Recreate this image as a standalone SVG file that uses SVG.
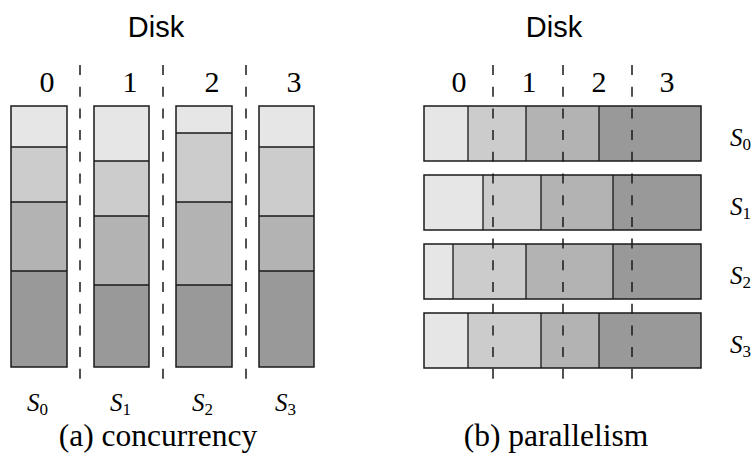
<svg xmlns="http://www.w3.org/2000/svg" width="755" height="455" viewBox="0 0 755 455">
<style>
.c1{fill:#e6e6e6}.c2{fill:#cccccc}.c3{fill:#b3b3b3}.c4{fill:#999999}
.sep{stroke:#1a1a1a;stroke-width:1.3;fill:none}
.frame{fill:none;stroke:#1a1a1a;stroke-width:1.5}
.dash{stroke:#1a1a1a;stroke-width:1.5;stroke-dasharray:10 11.7;fill:none}
.title{font-family:"Liberation Sans",Arial,"DejaVu Sans",sans-serif;font-size:29px;fill:#000;text-anchor:middle}
.num{font-family:"Liberation Serif","Times New Roman","DejaVu Serif",serif;font-size:30px;fill:#000;text-anchor:middle}
.cap{font-family:"Liberation Serif","Times New Roman","DejaVu Serif",serif;font-size:31.5px;fill:#000;text-anchor:middle}
.s{font-family:"Liberation Serif","Times New Roman","DejaVu Serif",serif;font-style:italic;font-size:25px;fill:#000}
.sub{font-style:normal;font-size:17px}
</style>
<rect width="755" height="455" fill="#fff"/>

<!-- (a) concurrency -->
<g id="a-title">
<text class="title" x="156" y="37">Disk</text>
<text class="num" x="47" y="92">0</text>
<text class="num" x="130" y="92">1</text>
<text class="num" x="212" y="92">2</text>
<text class="num" x="294" y="92">3</text>
</g>
<g id="a-col0">
<rect class="c1" x="11" y="106" width="56" height="41"/>
<rect class="c2" x="11" y="147" width="56" height="55"/>
<rect class="c3" x="11" y="202" width="56" height="69"/>
<rect class="c4" x="11" y="271" width="56" height="96"/>
<path class="sep" d="M11 147H67M11 202H67M11 271H67"/>
<rect class="frame" x="11" y="106" width="56" height="261"/>
<text class="s" x="27" y="411">S<tspan class="sub" dy="4">0</tspan></text>
</g>
<g id="a-col1">
<rect class="c1" x="94" y="106" width="55" height="55"/>
<rect class="c2" x="94" y="161" width="55" height="55"/>
<rect class="c3" x="94" y="216" width="55" height="69"/>
<rect class="c4" x="94" y="285" width="55" height="82"/>
<path class="sep" d="M94 161H149M94 216H149M94 285H149"/>
<rect class="frame" x="94" y="106" width="55" height="261"/>
<text class="s" x="110" y="411">S<tspan class="sub" dy="4">1</tspan></text>
</g>
<g id="a-col2">
<rect class="c1" x="176" y="106" width="56" height="27"/>
<rect class="c2" x="176" y="133" width="56" height="69"/>
<rect class="c3" x="176" y="202" width="56" height="83"/>
<rect class="c4" x="176" y="285" width="56" height="82"/>
<path class="sep" d="M176 133H232M176 202H232M176 285H232"/>
<rect class="frame" x="176" y="106" width="56" height="261"/>
<text class="s" x="192" y="411">S<tspan class="sub" dy="4">2</tspan></text>
</g>
<g id="a-col3">
<rect class="c1" x="259" y="106" width="55" height="41"/>
<rect class="c2" x="259" y="147" width="55" height="69"/>
<rect class="c3" x="259" y="216" width="55" height="55"/>
<rect class="c4" x="259" y="271" width="55" height="96"/>
<path class="sep" d="M259 147H314M259 216H314M259 271H314"/>
<rect class="frame" x="259" y="106" width="55" height="261"/>
<text class="s" x="275" y="411">S<tspan class="sub" dy="4">3</tspan></text>
</g>
<g id="a-caption">
<text class="cap" x="158" y="446">(a) concurrency</text>
</g>

<!-- (b) parallelism -->
<g id="b-title">
<text class="title" x="554" y="37">Disk</text>
<text class="num" x="459" y="92">0</text>
<text class="num" x="529" y="92">1</text>
<text class="num" x="599" y="92">2</text>
<text class="num" x="667" y="92">3</text>
</g>
<g id="b-row0">
<rect class="c1" x="424" y="106" width="44" height="55"/>
<rect class="c2" x="468" y="106" width="58" height="55"/>
<rect class="c3" x="526" y="106" width="73" height="55"/>
<rect class="c4" x="599" y="106" width="102" height="55"/>
<path class="sep" d="M468 106V161M526 106V161M599 106V161"/>
<rect class="frame" x="424" y="106" width="277" height="55"/>
<text class="s" x="730" y="146">S<tspan class="sub" dy="4">0</tspan></text>
</g>
<g id="b-row1">
<rect class="c1" x="424" y="175" width="59" height="55"/>
<rect class="c2" x="483" y="175" width="58" height="55"/>
<rect class="c3" x="541" y="175" width="72" height="55"/>
<rect class="c4" x="613" y="175" width="88" height="55"/>
<path class="sep" d="M483 175V230M541 175V230M613 175V230"/>
<rect class="frame" x="424" y="175" width="277" height="55"/>
<text class="s" x="730" y="215">S<tspan class="sub" dy="4">1</tspan></text>
</g>
<g id="b-row2">
<rect class="c1" x="424" y="244" width="29" height="55"/>
<rect class="c2" x="453" y="244" width="73" height="55"/>
<rect class="c3" x="526" y="244" width="87" height="55"/>
<rect class="c4" x="613" y="244" width="88" height="55"/>
<path class="sep" d="M453 244V299M526 244V299M613 244V299"/>
<rect class="frame" x="424" y="244" width="277" height="55"/>
<text class="s" x="730" y="284">S<tspan class="sub" dy="4">2</tspan></text>
</g>
<g id="b-row3">
<rect class="c1" x="424" y="313" width="44" height="55"/>
<rect class="c2" x="468" y="313" width="73" height="55"/>
<rect class="c3" x="541" y="313" width="58" height="55"/>
<rect class="c4" x="599" y="313" width="102" height="55"/>
<path class="sep" d="M468 313V368M541 313V368M599 313V368"/>
<rect class="frame" x="424" y="313" width="277" height="55"/>
<text class="s" x="730" y="353">S<tspan class="sub" dy="4">3</tspan></text>
</g>
<g id="b-caption">
<text class="cap" x="556" y="446">(b) parallelism</text>
</g>

<g id="connectors">
<path class="dash" d="M80 65V384M163 65V384M246 65V384"/>
<path class="dash" d="M493 65V384M563 65V384M632 65V384"/>
</g>
</svg>
